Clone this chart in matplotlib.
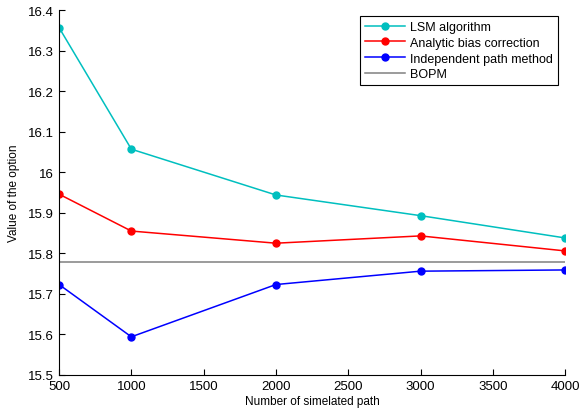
import matplotlib.pyplot as plt

plt.rcParams["font.family"] = ["Liberation Sans", "DejaVu Sans"]

paths = [500, 1000, 2000, 3000, 4000]
lsm = [16.357, 16.057, 15.944, 15.893, 15.838]
bias_corr = [15.946, 15.855, 15.825, 15.843, 15.806]
indep_path = [15.723, 15.594, 15.723, 15.756, 15.759]
bopm = 15.778

fig = plt.figure(figsize=(5.79, 4.14), dpi=100)
ax = fig.add_axes([0.102, 0.092, 0.874, 0.881])

ax.plot(paths, lsm, color="#00bfbf", marker="o", ms=5, lw=1.1, label="LSM algorithm")
ax.plot(paths, bias_corr, color="red", marker="o", ms=5, lw=1.1, label="Analytic bias correction")
ax.plot(paths, indep_path, color="blue", marker="o", ms=5, lw=1.1, label="Independent path method")
ax.plot([paths[0], paths[-1]], [bopm, bopm], color="gray", lw=1.1, label="BOPM")

ax.set_xlim(500, 4000)
ax.set_ylim(15.5, 16.4)
ax.set_xticks(range(500, 4001, 500))
ax.set_yticks([15.5, 15.6, 15.7, 15.8, 15.9, 16.0, 16.1, 16.2, 16.3, 16.4])
ax.set_yticklabels(["15.5", "15.6", "15.7", "15.8", "15.9", "16", "16.1", "16.2", "16.3", "16.4"])
ax.tick_params(direction="in", labelsize=9.5, length=4)
ax.spines["top"].set_visible(False)
ax.spines["right"].set_visible(False)
ax.set_xlabel("Number of simelated path", fontsize=8.5, labelpad=2)
ax.set_ylabel("Value of the option", fontsize=8.5, labelpad=6)

leg = ax.legend(loc="upper right", fontsize=9, fancybox=False, framealpha=1,
                edgecolor="black", handlelength=3.2, borderpad=0.4, labelspacing=0.3,
                handletextpad=0.4, borderaxespad=0, bbox_to_anchor=(0.986, 0.984))
leg.get_frame().set_linewidth(0.8)

fig.savefig("out.png", dpi=100)
